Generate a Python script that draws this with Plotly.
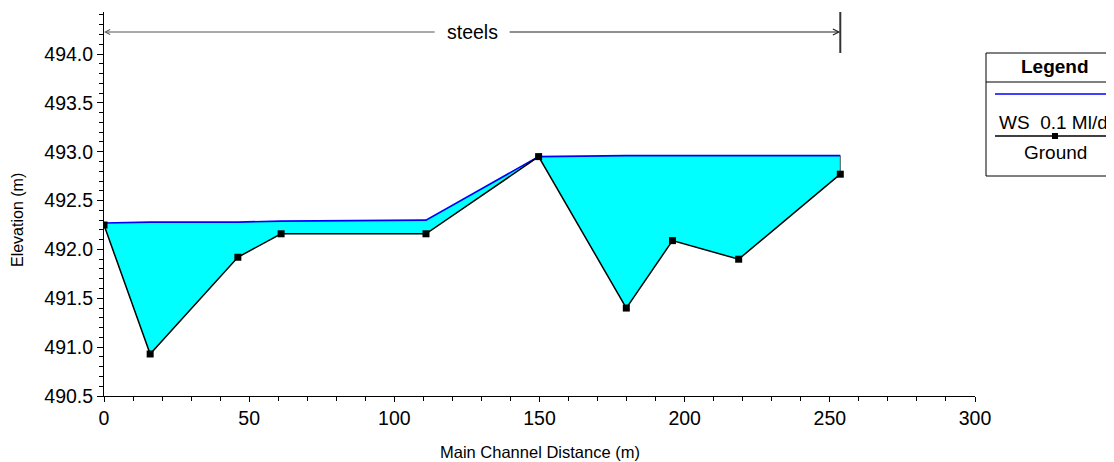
import plotly.graph_objects as go

# ---- data ----
station = [0.0, 15.9, 46.1, 61.0, 110.9, 149.7, 179.9, 195.8, 218.6, 253.6]
ground = [492.25, 490.93, 491.92, 492.16, 492.16, 492.95, 491.40, 492.09, 491.90, 492.77]
ws = [492.27, 492.28, 492.28, 492.29, 492.30, 492.95, 492.96, 492.96, 492.96, 492.96]
reach_name = "steels"
ws_label = "WS  0.1 Ml/d"
ground_label = "Ground"

FONT = "Liberation Sans, Arial, sans-serif"
OFF = 8  # default page margin of the html body
W, H = 1114 - OFF, 462 - OFF
# plot area in window pixels: x 104.5..975, y 12..396
ML, MT = 104 - OFF, 12 - OFF
MR = W - (975 - OFF)
MB = H - (396 - OFF)
PW, PH = W - ML - MR, H - MT - MB
Y0, Y1 = 490.5, 494.43


def px(X):  # window pixel x -> paper
    return (X - OFF - ML) / PW


def py(Y):  # window pixel y -> paper
    return (H - MB - (Y - OFF)) / PH


def ydat(Y):
    return Y0 + py(Y) * (Y1 - Y0)


def xdat_off(dpx):
    return dpx / PW * 300.0


fig = go.Figure()
# fill base
fig.add_trace(go.Scatter(x=station, y=ground, mode="lines",
                         line=dict(width=0, color="black"), hoverinfo="skip",
                         showlegend=False))
# water surface with fill
fig.add_trace(go.Scatter(x=station, y=ws, mode="lines", fill="tonexty",
                         fillcolor="#00FFFF", line=dict(color="#0000FF", width=1.6),
                         showlegend=False))
# right edge of the water body
fig.add_trace(go.Scatter(x=[station[-1], station[-1]], y=[ground[-1], ws[-1]],
                         mode="lines", line=dict(color="#555555", width=1),
                         showlegend=False))
# ground line
fig.add_trace(go.Scatter(x=station, y=ground, mode="lines+markers",
                         line=dict(color="black", width=1.5),
                         marker=dict(symbol="square", size=7, color="black"),
                         showlegend=False))

annotations = []
shapes = []

# reach label with arrows
ry = ydat(32)
rmid = (station[0] + station[-1]) / 2
gap = xdat_off(36)
annotations.append(dict(x=rmid, y=ry, xref="x", yref="y", text=reach_name,
                        xanchor="center", yanchor="middle",
                        showarrow=False, font=dict(family=FONT, size=19.5, color="black")))
annotations.append(dict(x=station[0], y=ry, xref="x", yref="y", ax=rmid - gap, ay=ry,
                        axref="x", ayref="y", text="", showarrow=True, arrowhead=5,
                        arrowsize=1, arrowwidth=1, arrowcolor="#555555"))
annotations.append(dict(x=station[-1], y=ry, xref="x", yref="y", ax=rmid + gap, ay=ry,
                        axref="x", ayref="y", text="", showarrow=True, arrowhead=5,
                        arrowsize=1, arrowwidth=1.2, arrowcolor="#222222"))
shapes.append(dict(type="line", xref="x", yref="y", x0=station[-1], x1=station[-1],
                   y0=ydat(12), y1=ydat(53), line=dict(color="#333333", width=2)))

# axis titles
annotations.append(dict(x=0.5, y=py(452), xref="paper", yref="paper",
                        xanchor="center", yanchor="middle",
                        text="Main Channel Distance (m)", showarrow=False,
                        font=dict(family=FONT, size=16.5, color="black")))
annotations.append(dict(x=px(17), y=py(220), xref="paper", yref="paper",
                        xanchor="center", yanchor="middle",
                        text="Elevation (m)", showarrow=False, textangle=-90,
                        font=dict(family=FONT, size=16, color="black")))

# legend box
shapes.append(dict(type="rect", xref="paper", yref="paper", x0=px(986), x1=px(1125),
                   y0=py(176), y1=py(53), line=dict(color="black", width=1),
                   fillcolor="white", layer="below"))
shapes.append(dict(type="line", xref="paper", yref="paper", x0=px(986), x1=px(1125),
                   y0=py(82), y1=py(82), line=dict(color="black", width=1)))
shapes.append(dict(type="line", xref="paper", yref="paper", x0=px(995), x1=px(1125),
                   y0=py(94), y1=py(94), line=dict(color="#0000FF", width=1.6)))
shapes.append(dict(type="line", xref="paper", yref="paper", x0=px(995), x1=px(1125),
                   y0=py(136), y1=py(136), line=dict(color="black", width=1.5)))
shapes.append(dict(type="rect", xref="paper", yref="paper", x0=px(1052), x1=px(1058),
                   y0=py(139), y1=py(133), line=dict(width=0), fillcolor="black"))
annotations.append(dict(x=px(1055), y=py(66), xref="paper", yref="paper",
                        xanchor="center", yanchor="middle",
                        text="<b>Legend</b>", showarrow=False,
                        font=dict(family=FONT, size=19, color="black")))
annotations.append(dict(x=px(1053), y=py(122), xref="paper", yref="paper",
                        xanchor="center", yanchor="middle",
                        text=ws_label.replace(" ", "&nbsp;"), showarrow=False,
                        font=dict(family=FONT, size=19, color="black")))
annotations.append(dict(x=px(1055), y=py(152), xref="paper", yref="paper",
                        xanchor="center", yanchor="middle",
                        text=ground_label, showarrow=False,
                        font=dict(family=FONT, size=19, color="black")))

fig.update_layout(
    width=W, height=H, autosize=False,
    margin=dict(l=ML, r=MR, t=MT, b=MB, pad=0, autoexpand=False),
    paper_bgcolor="white", plot_bgcolor="white",
    showlegend=False,
    font=dict(family=FONT, size=19, color="black"),
    annotations=annotations, shapes=shapes,
)
fig.update_xaxes(range=[0, 300], dtick=50, tick0=0, showgrid=False, zeroline=False,
                 showline=True, linecolor="black", linewidth=1,
                 ticks="outside", ticklen=5, tickcolor="black",
                 minor=dict(dtick=10, ticks="outside", ticklen=4, tickcolor="black"),
                 tickfont=dict(family=FONT, size=19.5, color="black"))
fig.update_yaxes(range=[Y0, Y1], dtick=0.5, tick0=490.5, tickformat=".1f",
                 showgrid=False, zeroline=False,
                 showline=True, linecolor="black", linewidth=1,
                 ticks="outside", ticklen=6, tickcolor="black",
                 minor=dict(dtick=0.1, ticks="outside", ticklen=4, tickcolor="black"),
                 tickfont=dict(family=FONT, size=19.5, color="black"))

fig.write_html("out.html")
